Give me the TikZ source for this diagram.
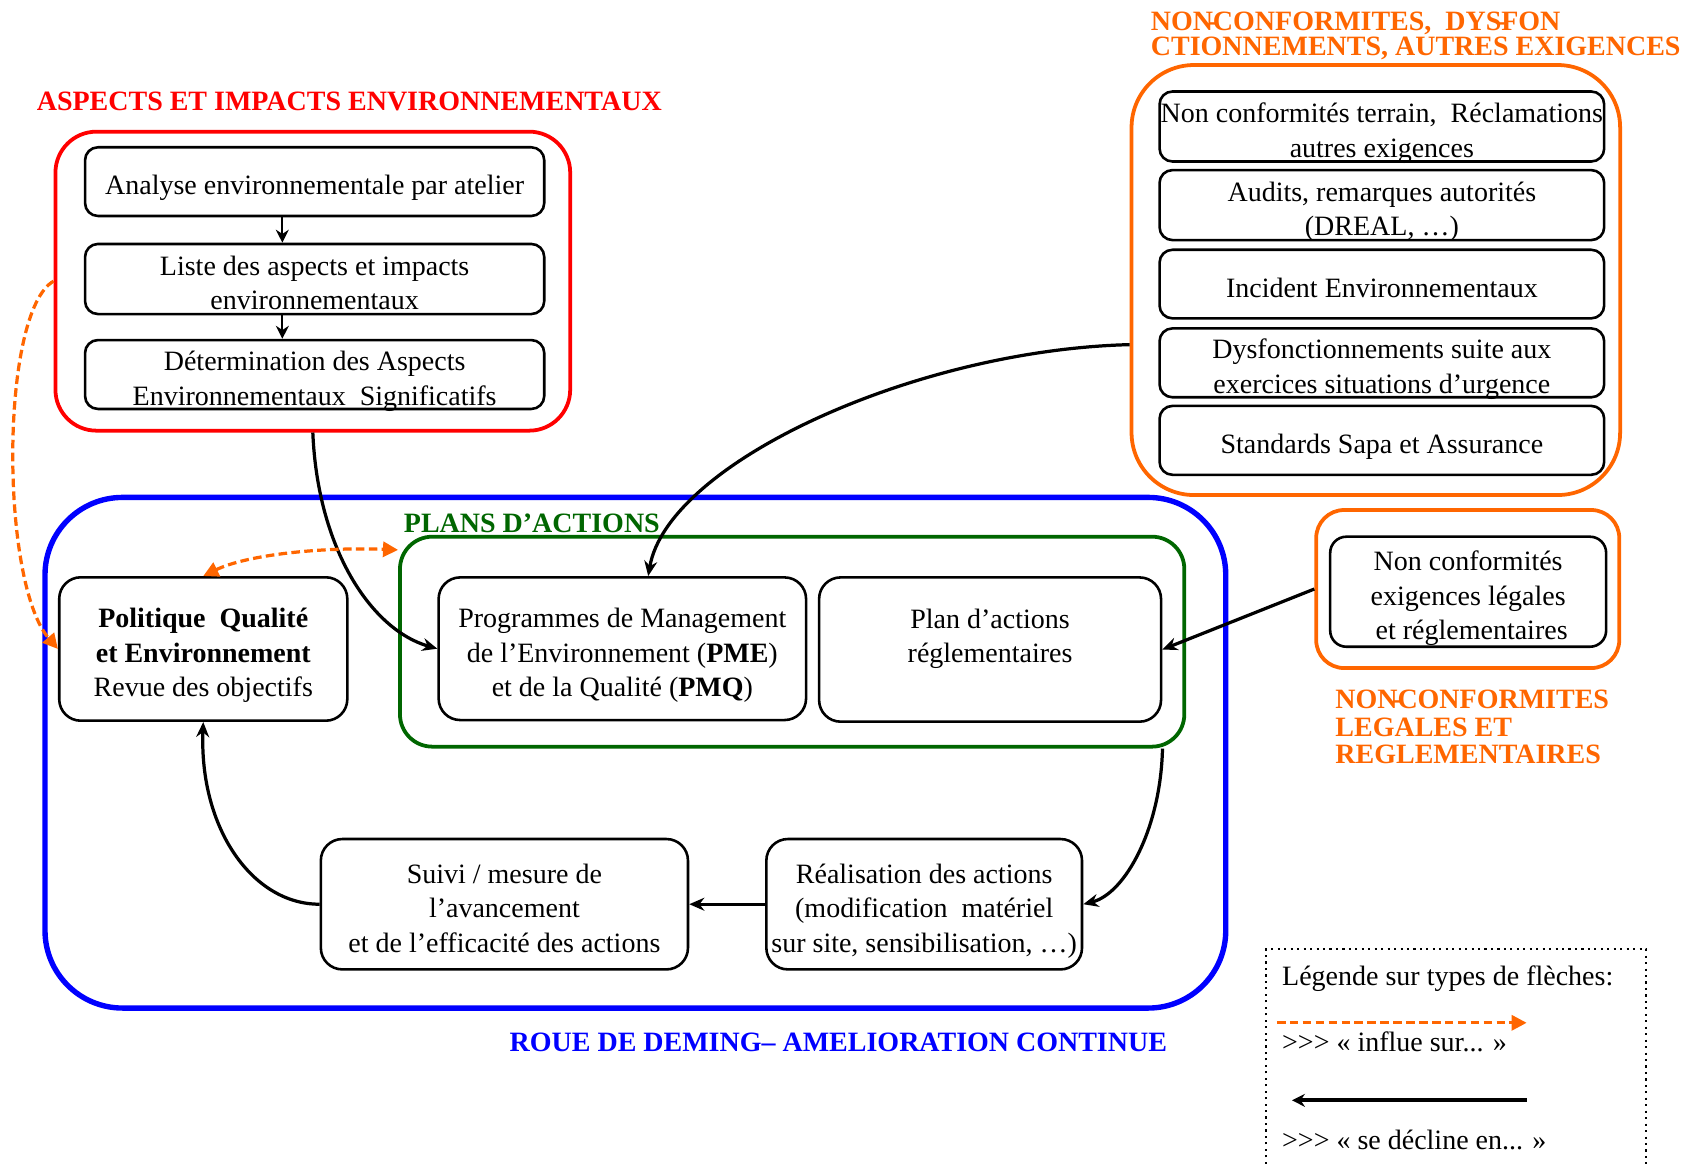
\documentclass[tikz,border=0pt]{standalone}
\usepackage{fontspec}
\setmainfont{Liberation Serif}
\usetikzlibrary{arrows.meta,calc}
\definecolor{orng}{RGB}{255,102,0}
\definecolor{dgreen}{RGB}{0,102,0}
\newcommand\bxfont{\fontsize{13}{16}\selectfont}
\newcommand\ttlfont{\fontsize{13}{13}\selectfont\bfseries}
\newcommand\lo[1]{\raisebox{-3pt}[\height][\depth]{\begin{tabular}{@{}c@{}}#1\end{tabular}}}
\begin{document}
\begin{tikzpicture}[x=0.5pt,y=-0.5pt,
  area/.style args={#1/#2/#3/#4}{minimum width={(#3-#1)*0.5pt}, minimum height={(#4-#2)*0.5pt}, at={({(#1+#3)/2},{(#2+#4)/2})}},
  grp/.style={draw, line width=1.75pt, inner sep=0pt},
  box/.style={draw=black, line width=1.2pt, inner sep=0pt, align=center, font=\bxfont},
  sbox/.style={box, rounded corners=6pt},
  bbox/.style={box, rounded corners=10pt},
  ttl/.style={anchor=base west, inner sep=0pt, font=\ttlfont},
  lgtext/.style={anchor=base west, inner sep=0pt, font=\bxfont},
  flow/.style={line width=1.5pt, -{Stealth[length=7pt,width=6pt]}},
  infl/.style={orng, line width=1.5pt, dash pattern=on 4pt off 2pt, -{Triangle[length=7pt,width=7pt]}}
]
\useasboundingbox (0,0) rectangle (1566,1081);

% ---------- red group ----------
\node[ttl, red] (tred) at (33.8,103) {ASPECTS ET IMPACTS ENVIRONNEMENTAUX};
\node[grp, draw=red, rounded corners=19pt, area={51.5/122.3/529.6/400}] (redgrp) {};
\node[sbox, area={79/136.8/505.5/200.6}] (a1) {\lo{Analyse environnementale par atelier}};
\node[sbox, area={79/226.6/505.5/291.7}] (a2) {\lo{Liste des aspects et impacts\\environnementaux}};
\node[sbox, area={79/316.4/505.5/379.3}] (a3) {\lo{Détermination des Aspects\\Environnementaux~ Significatifs}};

% ---------- orange group (top right) ----------
\node[anchor=north west, inner sep=0pt, font=\fontsize{13}{11.5}\selectfont\bfseries, text=orng, align=left] (torg) at (1068.6,10.8)
  {NON\kern-.17em-\kern-.17em CONFORMITES,~ DYS\kern-.17em-\kern-.17em FON\\CTIONNEMENTS, AUTRES EXIGENCES};
\node[grp, draw=orng, rounded corners=29pt, area={1051/60.4/1504.8/459.8}] (orggrp) {};
\node[sbox, area={1077/85/1490/150}] (o1) {\lo{Non conformités terrain,~ Réclamations\\autres exigences}};
\node[sbox, area={1077/158/1490/223}] (o2) {\lo{Audits, remarques autorités\\(DREAL, …)}};
\node[sbox, area={1077/232/1490/295.7}] (o3) {\lo{Incident Environnementaux}};
\node[sbox, area={1077/305/1490/369}] (o4) {\lo{Dysfonctionnements suite aux\\exercices situations d’urgence}};
\node[sbox, area={1077/377/1490/441}] (o5) {\lo{Standards Sapa et Assurance}};

% ---------- blue / green groups ----------
\node[grp, draw=blue, line width=2.5pt, rounded corners=36pt, area={41.8/462/1138.5/936.3}] (bluegrp) {};
\node[ttl, blue] (tblue) at (473,977) {ROUE DE DEMING– AMELIORATION CONTINUE};
\node[grp, draw=dgreen, rounded corners=15pt, area={371.5/498.5/1100/693.5}] (greengrp) {};
\node[ttl, dgreen] (tgreen) at (374.8,495) {PLANS D’ACTIONS};

\node[bbox, area={55/536.2/322.6/669.4}] (pol) {\lo{\textbf{Politique~ Qualité}\\\textbf{et Environnement}\\Revue des objectifs}};
\node[bbox, area={407.4/536.3/748.7/668.8}] (pme) {\lo{Programmes de Management\\de l’Environnement (\textbf{PME})\\et de la Qualité (\textbf{PMQ})}};
\node[bbox, area={760.8/536.3/1078.4/670.3}] (pa) {\lo{Plan d’actions\\réglementaires\\\mbox{}}};
\node[bbox, area={298/779.3/639/900.4}] (suivi) {\lo{Suivi / mesure de\\l’avancement\\et de l’efficacité des actions}};
\node[bbox, area={711.8/779.3/1005/900.4}] (real) {\lo{Réalisation des actions\\(modification~ matériel\\sur site, sensibilisation, …)}};

% ---------- right orange group ----------
\node[grp, draw=orng, rounded corners=13pt, area={1222.5/473.7/1504/620.5}] (rgrp) {};
\node[box, rounded corners=7.5pt, area={1235.5/498.5/1491.8/600.7}] (r1) {\lo{Non conformités\\exigences légales\\~et réglementaires}};
\node[anchor=north west, inner sep=0pt, font=\fontsize{13}{12.75}\selectfont\bfseries, text=orng, align=left] (trgt) at (1240,640.8)
  {NON\kern-.17em-\kern-.17em CONFORMITES\\LEGALES ET\\REGLEMENTAIRES};

% ---------- connectors ----------
\draw[line width=1pt, -{Stealth[length=6pt,width=6pt]}] ($(a1.south)+(-30,0)$) -- ($(a2.north)+(-30,0)$);
\draw[line width=1pt, -{Stealth[length=6pt,width=6pt]}] ($(a2.south)+(-30,0)$) -- ($(a3.north)+(-30,0)$);
\draw[flow] (redgrp.south) .. controls (295,510) and (345,585) .. (pme.west);
\draw[flow] ($(orggrp.west)+(0,60)$) .. controls (850,325) and (620,430) .. ($(pme.north)+(24,0)$);
\draw[infl] (redgrp.west) .. controls (0,290) and (0,540) .. (pol.west);
\draw[infl, {Triangle[length=7pt,width=7pt]}-{Triangle[length=7pt,width=7pt]}] (pol.north) .. controls (230,515) and (300,508) .. ($(greengrp.north west)+(0,14)$);
\draw[flow] (rgrp.west) -- (pa.east);
\draw[flow] ($(greengrp.south east)+(-22,0)$) .. controls (1078,770) and (1045,830) .. (real.east);
\draw[flow] (real.west) -- (suivi.east);
\draw[flow] (suivi.west) .. controls (235,840) and (185,770) .. (pol.south);

% ---------- legend ----------
\draw[black, line width=1pt, dotted] (1176,1081) |- (1529,881.8) -- (1529,1081);
\node[lgtext] (lg0) at (1190.5,915) {Légende sur types de flèches:};
\coordinate (l1s) at (1186,950);
\coordinate (l1e) at (1418,950);
\draw[infl] (l1s) -- (l1e);
\node[lgtext] (lg1) at (1190.5,977) {>{}>{}> « influe sur... »};
\coordinate (l2s) at (1418,1022);
\coordinate (l2e) at (1200,1022);
\draw[line width=1.9pt, -{Stealth[length=6pt,width=6pt]}] (l2s) -- (l2e);
\node[lgtext] (lg2) at (1190.5,1068) {>{}>{}> « se décline en... »};
\end{tikzpicture}
\end{document}
